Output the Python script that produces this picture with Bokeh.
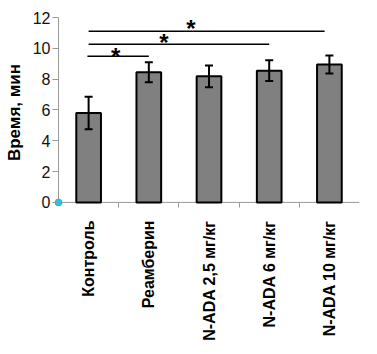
import math
from bokeh.plotting import figure
from bokeh.models import ColumnDataSource, FixedTicker, Range1d
from bokeh.core.properties import value
from bokeh.embed import file_html
from bokeh.resources import INLINE

categories = ["Контроль", "Реамберин", "N-ADA 2,5 мг/кг", "N-ADA 6 мг/кг", "N-ADA 10 мг/кг"]
means = [5.8, 8.45, 8.18, 8.55, 8.95]
errors = [1.05, 0.65, 0.7, 0.67, 0.58]
y_ticks = [0, 2, 4, 6, 8, 10, 12]

# significance brackets: start x, end x, level, star x, star y
sig_x0 = [0.48, 0.5, 0.5]
sig_x1 = [1.5, 3.5, 4.42]
sig_y = [9.48, 10.26, 11.1]
star_x = [0.95, 1.75, 2.2]
star_y = [9.85, 10.76, 11.67]

FONT = "Liberation Sans"
n = len(categories)
xc = [i + 0.5 for i in range(n)]
upper = [m + e for m, e in zip(means, errors)]
lower = [m - e for m, e in zip(means, errors)]
y_max = y_ticks[-1]

src = ColumnDataSource(dict(x=xc, top=means, upper=upper, lower=lower))

p = figure(width=377, height=354, output_backend="svg", toolbar_location=None,
           x_range=Range1d(-0.1, n), y_range=Range1d(-0.33, y_max),
           min_border_left=52, min_border_right=18, min_border_top=17, min_border_bottom=147)
p.outline_line_color = None
p.grid.grid_line_color = None
p.background_fill_color = "white"

# axis lines through the origin
p.segment(x0=[0, 0], y0=[0, 0], x1=[n, 0], y1=[0, y_max], line_color="#999999", line_width=1)

p.vbar(x="x", top="top", width=0.41, bottom=0, source=src,
       fill_color="#808080", line_color="black", line_width=2)

p.segment(x0="x", y0="lower", x1="x", y1="upper", source=src, line_color="black", line_width=2)
p.scatter(x="x", y="upper", source=src, marker="dash", size=8, line_color="black", line_width=2)
p.scatter(x="x", y="lower", source=src, marker="dash", size=8, line_color="black", line_width=2)

p.segment(x0=sig_x0, y0=sig_y, x1=sig_x1, y1=sig_y, line_color="black", line_width=1.5)
p.text(x=star_x, y=star_y, text=["*"] * 3, text_font=value(FONT), text_font_size="24px",
       text_font_style="bold", text_align="center", text_baseline="middle",
       y_offset=6, text_color="black")

p.scatter(x=[0], y=[0], size=7, fill_color="#20c8e8", line_color="#1090b0", line_width=0.5)

# y axis
ya = p.yaxis[0]
ya.ticker = FixedTicker(ticks=y_ticks, minor_ticks=[])
ya.axis_label = "Время, мин"
ya.axis_label_text_font = FONT
ya.axis_label_text_font_size = "17px"
ya.axis_label_text_font_style = "bold"
ya.axis_label_text_color = "black"
ya.axis_label_standoff = 6
ya.major_label_text_font = FONT
ya.major_label_text_font_size = "16px"
ya.major_label_text_color = "#111111"
ya.axis_line_color = None
ya.major_tick_line_color = "#999999"
ya.major_tick_out = 0
ya.major_tick_in = 6
ya.major_label_standoff = 2

# x axis
xa = p.xaxis[0]
xa.ticker = FixedTicker(ticks=xc, minor_ticks=[1, 2, 3, 4])
xa.major_label_overrides = {x: c for x, c in zip(xc, categories)}
xa.major_label_orientation = math.pi / 2
xa.major_label_text_font = FONT
xa.major_label_text_font_size = "16px"
xa.major_label_text_font_style = "bold"
xa.major_label_text_color = "black"
xa.major_label_standoff = 7
xa.major_tick_line_color = None
xa.minor_tick_line_color = "#999999"
xa.minor_tick_out = 0
xa.minor_tick_in = 5
xa.axis_line_color = None

open("out.html", "w").write(file_html(p, INLINE))
